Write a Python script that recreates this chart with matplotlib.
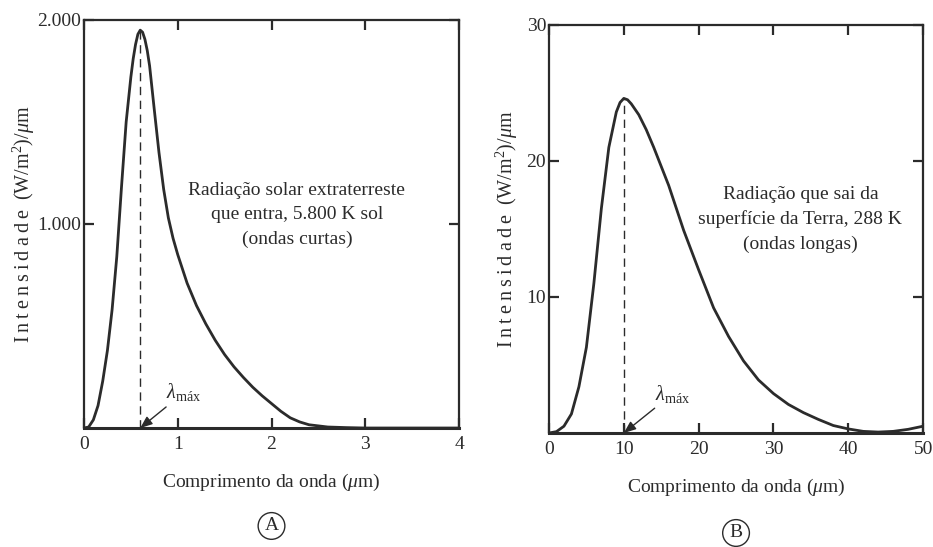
import matplotlib
matplotlib.use("Agg")
import matplotlib.pyplot as plt

plt.rcParams['font.family'] = ['Liberation Serif', 'DejaVu Serif']
plt.rcParams['mathtext.fontset'] = 'custom'
plt.rcParams['mathtext.rm'] = 'Liberation Serif'
plt.rcParams['mathtext.it'] = 'Liberation Serif:italic'

INK = '#2b2b2b'

# Painel A - radiação solar (5.800 K)
sol_x = [0, 0.05, 0.1, 0.15, 0.2, 0.25, 0.3, 0.35, 0.4, 0.45, 0.5, 0.525,
         0.55, 0.575, 0.6, 0.625, 0.65, 0.675, 0.7, 0.75, 0.8, 0.85, 0.9,
         0.95, 1.0, 1.1, 1.2, 1.3, 1.4, 1.5, 1.6, 1.7, 1.8, 1.9, 2.0, 2.1,
         2.2, 2.3, 2.4, 2.6, 2.8, 3.0, 3.5, 4.0]
sol_y = [0, 5, 40, 110, 230, 380, 580, 840, 1180, 1500, 1720, 1810,
         1880, 1930, 1950, 1940, 1905, 1850, 1775, 1560, 1350, 1170, 1030,
         930, 850, 710, 600, 510, 430, 360, 300, 248, 200, 158, 120, 82,
         50, 30, 16, 5, 2, 0, 0, 0]
sol_peak = 0.6
sol_ticks_x = [0, 1, 2, 3, 4]
sol_ticks_y = [1000, 2000]
sol_labels_y = ['1.000', '2.000']

# Painel B - radiação da Terra (288 K)
terra_x = [0, 1, 2, 3, 4, 5, 6, 7, 8, 9, 9.5, 10, 10.5, 11, 12, 13, 14, 16,
           18, 20, 22, 24, 26, 28, 30, 32, 34, 36, 38, 40, 42, 44, 46, 48, 50]
terra_y = [0, 0.1, 0.5, 1.4, 3.4, 6.3, 11.0, 16.5, 21.0, 23.6, 24.3, 24.6,
           24.5, 24.2, 23.4, 22.3, 21.0, 18.2, 14.9, 12.0, 9.2, 7.1, 5.3, 3.9,
           2.9, 2.1, 1.5, 1.0, 0.55, 0.3, 0.12, 0.07, 0.12, 0.27, 0.5]
terra_peak = 10
terra_ticks_x = [0, 10, 20, 30, 40, 50]
terra_ticks_y = [10, 20, 30]
terra_labels_y = ['10', '20', '30']

YLAB = '\u2009'.join('Intensidade') + '  (W/m$^2$)/$\\mu$m'

fig = plt.figure(figsize=(9.33, 5.47), dpi=100)
axA = fig.add_axes([0.090, 0.2175, 0.402, 0.746])
axB = fig.add_axes([0.5884, 0.2084, 0.401, 0.746])


def style(ax, xs, ys, ylabels, xmax, ymax, ypad):
    ax.set_xlim(0, xmax)
    ax.set_ylim(0, ymax)
    ax.set_xticks(xs)
    ax.set_xticklabels([str(v) for v in xs])
    ax.set_yticks(ys)
    ax.set_yticklabels(ylabels)
    for s in ax.spines.values():
        s.set_linewidth(1.6)
        s.set_color(INK)
    ax.spines['bottom'].set_linewidth(2.2)
    ax.tick_params(direction='in', length=7, width=1.6, colors=INK,
                   labelsize=14, top=True, right=True)
    ax.tick_params(axis='x', pad=6)
    ax.tick_params(axis='y', pad=2)
    ax.set_xlabel('Comprimento da onda ($\\mu$m)', fontsize=14,
                  color=INK, labelpad=13)
    ax.set_ylabel(YLAB, fontsize=14.5, color=INK, labelpad=ypad)


style(axA, sol_ticks_x, sol_ticks_y, sol_labels_y, 4, 2000, 0.5)
style(axB, terra_ticks_x, terra_ticks_y, terra_labels_y, 50, 30, 5)

axA.plot(sol_x, sol_y, color=INK, lw=2, solid_capstyle='round',
         solid_joinstyle='round')
axB.plot(terra_x, terra_y, color=INK, lw=2, solid_capstyle='round',
         solid_joinstyle='round')

axA.vlines(sol_peak, 0, max(sol_y), colors=INK, linestyles=(0, (6, 4)), lw=1)
axB.vlines(terra_peak, 0, max(terra_y), colors=INK, linestyles=(0, (6, 4)), lw=1)

lam = '$\\lambda_{\\mathrm{máx}}$'
arrow = dict(arrowstyle='-|>,head_length=0.5,head_width=0.2', color=INK,
             lw=1, shrinkA=1, shrinkB=0)
axA.annotate(lam, xy=(sol_peak, 0), xytext=(0.88, 175), fontsize=14.5,
             color=INK, ha='left', va='center', arrowprops=arrow)
axB.annotate(lam, xy=(terra_peak, 0), xytext=(14.2, 2.9), fontsize=14.5,
             color=INK, ha='left', va='center', arrowprops=arrow)

axA.text(2.27, 1044, 'Radiação solar extraterreste\nque entra, 5.800 K sol\n(ondas curtas)',
         ha='center', va='center', fontsize=14, color=INK, linespacing=1.55)
axB.text(33.6, 15.7, 'Radiação que sai da\nsuperfície da Terra, 288 K\n(ondas longas)',
         ha='center', va='center', fontsize=14, color=INK, linespacing=1.55)

for ax, letter, dy in [(axA, 'A', -0.24), (axB, 'B', -0.245)]:
    ax.text(0.5, dy, letter, transform=ax.transAxes, ha='center', va='center',
            fontsize=14, color=INK,
            bbox=dict(boxstyle='circle,pad=0.25', fc='white', ec=INK, lw=1))

fig.savefig('out.png', dpi=100)
